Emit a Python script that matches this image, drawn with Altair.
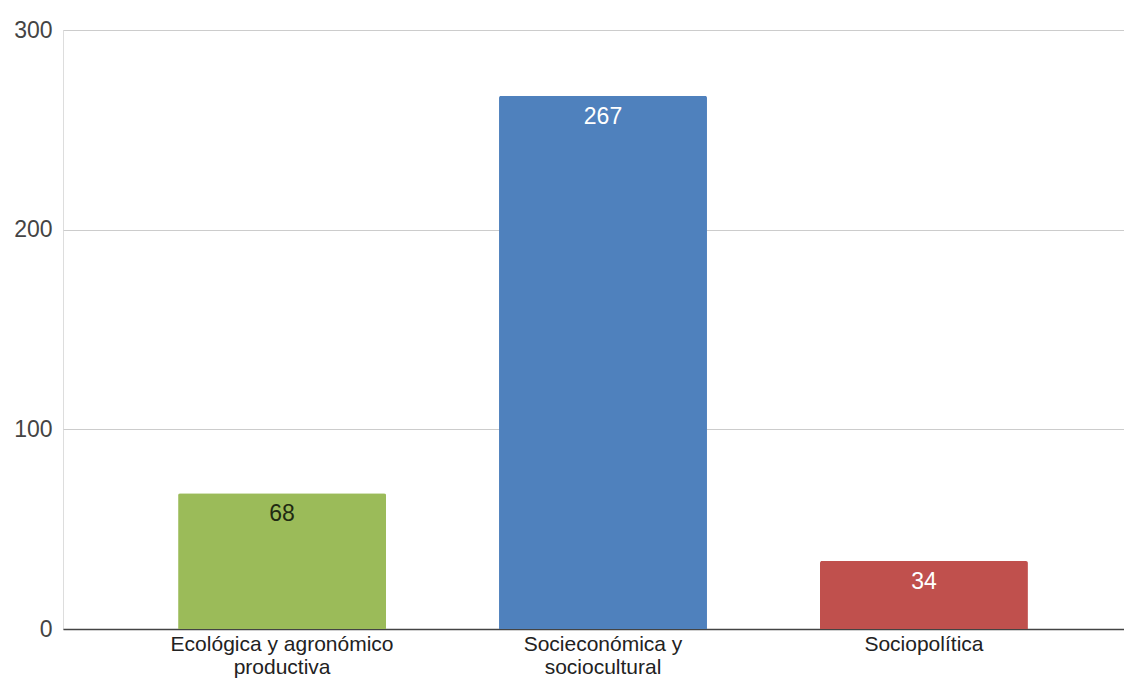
import altair as alt
import pandas as pd

categories = ["Ecológica y agronómico productiva", "Socieconómica y sociocultural", "Sociopolítica"]
values = [68, 267, 34]
label_lines = [["Ecológica y agronómico", "productiva"], ["Socieconómica y", "sociocultural"], ["Sociopolítica"]]
y_ticks = [0, 100, 200, 300]

bar_colors = ["#9BBB59", "#4F81BD", "#C0504D"]
text_colors = ["#1f2a12", "#ffffff", "#ffffff"]

df = pd.DataFrame({"cat": categories, "value": values})

label_expr = "datum.value == '{0}' ? {1} : datum.value == '{2}' ? {3} : {4}".format(
    categories[0], str(label_lines[0]), categories[1], str(label_lines[1]), str(label_lines[2])
)

x = alt.X(
    "cat:N",
    sort=categories,
    title=None,
    scale=alt.Scale(paddingInner=0.352, paddingOuter=0.329, align=0.545),
    axis=alt.Axis(
        labelAngle=0,
        labelFont="Liberation Sans",
        labelFontSize=21,
        labelColor="#222222",
        labelPadding=4,
        labelLineHeight=23,
        labelLimit=0,
        labelExpr=label_expr,
        ticks=False,
        domain=True,
        domainColor="#444444",
        domainWidth=1.5,
        grid=False,
    ),
)

y = alt.Y(
    "value:Q",
    title=None,
    scale=alt.Scale(domain=[0, 300], nice=False),
    axis=alt.Axis(
        values=y_ticks,
        labelFont="Liberation Sans",
        labelFontSize=23,
        labelColor="#444444",
        labelPadding=11,
        ticks=False,
        domain=False,
        gridColor="#cccccc",
        gridWidth=1,
    ),
)

bars = alt.Chart(df).mark_bar(cornerRadiusTopLeft=2, cornerRadiusTopRight=2).encode(
    x=x,
    y=y,
    color=alt.Color("cat:N", sort=categories, scale=alt.Scale(domain=categories, range=bar_colors), legend=None),
)

texts = alt.Chart(df).mark_text(
    baseline="middle", align="center", dy=21, fontSize=23, font="Liberation Sans"
).encode(
    x=alt.X("cat:N", sort=categories),
    y=alt.Y("value:Q"),
    text=alt.Text("value:Q"),
    color=alt.Color("cat:N", sort=categories, scale=alt.Scale(domain=categories, range=text_colors), legend=None),
)

chart = (
    alt.layer(bars, texts)
    .resolve_scale(color="independent")
    .properties(
        width=1061,
        height=599,
        autosize=alt.AutoSizeParams(type="none"),
        padding={"left": 55, "top": 22, "right": 0, "bottom": 49},
    )
    .configure_view(stroke=None)
    .configure(background="white")
)

chart.save("out.html", embed_options={"renderer": "svg", "actions": False})
